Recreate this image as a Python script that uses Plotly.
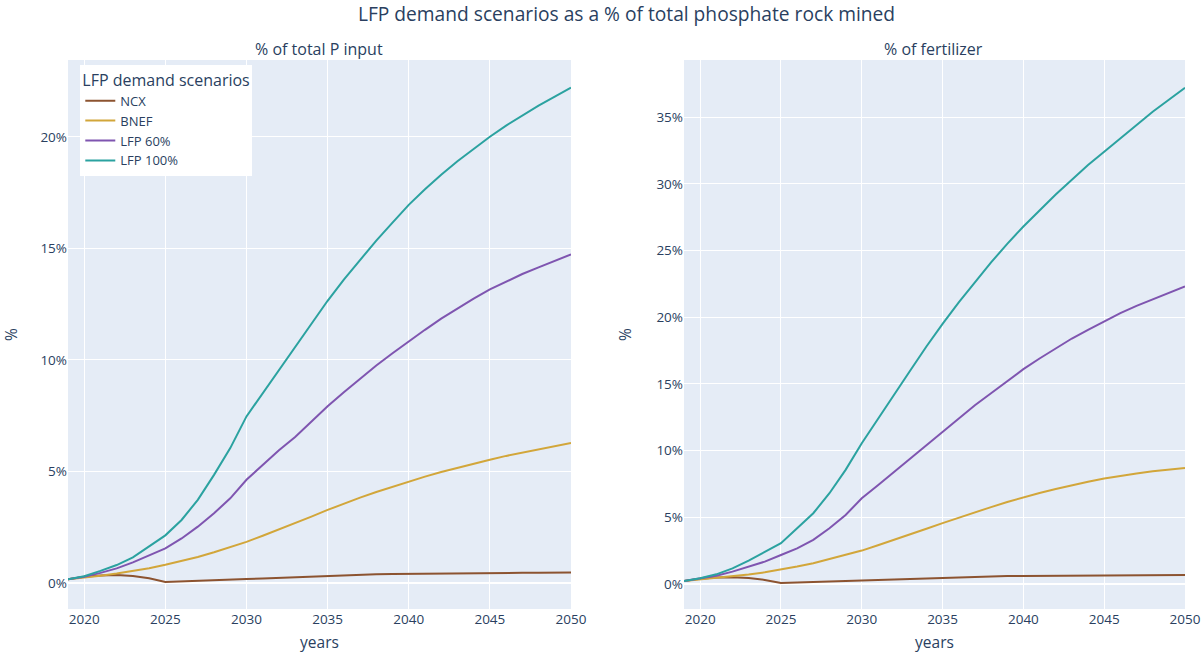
import plotly.graph_objects as go
from plotly.subplots import make_subplots

years = list(range(2019, 2051))

# LFP demand as % of total P input
ncx_p = [0.17, 0.28, 0.34, 0.36, 0.32, 0.22, 0.05, 0.07, 0.10, 0.12, 0.15, 0.18,
         0.21, 0.24, 0.27, 0.30, 0.33, 0.36, 0.39, 0.40, 0.41, 0.42, 0.43, 0.43,
         0.44, 0.44, 0.45, 0.45, 0.46, 0.46, 0.47, 0.47]
bnef_p = [0.17, 0.24, 0.33, 0.43, 0.54, 0.67, 0.82, 0.98, 1.17, 1.38, 1.60, 1.85,
          2.12, 2.40, 2.68, 2.98, 3.28, 3.56, 3.83, 4.08, 4.32, 4.55, 4.77, 4.98,
          5.17, 5.35, 5.53, 5.70, 5.85, 6.00, 6.14, 6.28]
lfp60_p = [0.17, 0.28, 0.46, 0.66, 0.93, 1.26, 1.56, 2.00, 2.53, 3.13, 3.80, 4.63,
           5.30, 5.95, 6.55, 7.25, 7.92, 8.55, 9.15, 9.75, 10.30, 10.84, 11.35, 11.85,
           12.30, 12.75, 13.16, 13.50, 13.85, 14.15, 14.45, 14.73]
lfp100_p = [0.17, 0.31, 0.55, 0.81, 1.15, 1.63, 2.14, 2.83, 3.73, 4.85, 6.05, 7.47,
            8.50, 9.55, 10.55, 11.60, 12.65, 13.60, 14.50, 15.35, 16.15, 16.95, 17.65, 18.30,
            18.90, 19.45, 20.00, 20.50, 20.95, 21.40, 21.80, 22.20]

# LFP demand as % of fertilizer
ncx_f = [0.22, 0.38, 0.48, 0.50, 0.45, 0.30, 0.07, 0.12, 0.16, 0.19, 0.22, 0.25,
         0.29, 0.33, 0.37, 0.41, 0.45, 0.50, 0.54, 0.57, 0.59, 0.60, 0.61, 0.62,
         0.62, 0.63, 0.63, 0.64, 0.64, 0.65, 0.65, 0.66]
bnef_f = [0.22, 0.33, 0.45, 0.57, 0.70, 0.87, 1.07, 1.30, 1.55, 1.85, 2.15, 2.50,
          2.90, 3.30, 3.72, 4.14, 4.56, 4.97, 5.37, 5.76, 6.14, 6.50, 6.82, 7.12,
          7.40, 7.66, 7.90, 8.10, 8.28, 8.44, 8.58, 8.70]
lfp60_f = [0.22, 0.40, 0.62, 0.92, 1.30, 1.67, 2.17, 2.67, 3.30, 4.17, 5.17, 6.42,
           7.40, 8.40, 9.40, 10.40, 11.40, 12.40, 13.40, 14.30, 15.20, 16.10, 16.90, 17.65,
           18.40, 19.05, 19.70, 20.30, 20.85, 21.35, 21.85, 22.30]
lfp100_f = [0.22, 0.42, 0.72, 1.17, 1.75, 2.42, 3.05, 4.17, 5.30, 6.80, 8.55, 10.55,
            12.40, 14.20, 16.00, 17.80, 19.50, 21.10, 22.60, 24.10, 25.50, 26.80, 28.00, 29.20,
            30.30, 31.40, 32.40, 33.40, 34.40, 35.40, 36.30, 37.20]

scenarios = ["NCX", "BNEF", "LFP 60%", "LFP 100%"]
colors = ["#8c5330", "#d2a63a", "#7f55b0", "#2ba2a0"]
p_input = [ncx_p, bnef_p, lfp60_p, lfp100_p]
fertilizer = [ncx_f, bnef_f, lfp60_f, lfp100_f]

fig = make_subplots(rows=1, cols=2,
                    subplot_titles=("% of total P input", "% of fertilizer"))

for name, color, vals in zip(scenarios, colors, p_input):
    fig.add_trace(go.Scatter(x=years, y=vals, mode="lines", name=name,
                             line=dict(color=color, width=2)),
                  row=1, col=1)
for name, color, vals in zip(scenarios, colors, fertilizer):
    fig.add_trace(go.Scatter(x=years, y=vals, mode="lines", name=name,
                             line=dict(color=color, width=2), showlegend=False),
                  row=1, col=2)

fig.update_layout(
    template="plotly",
    width=1203, height=653,
    margin=dict(l=68, r=18, t=60, b=44),
    font=dict(family="Open Sans, Verdana, Arial, sans-serif", size=13.5, color="#2a3f5f"),
    title=dict(text="LFP demand scenarios as a % of total phosphate rock mined",
               xref="paper", x=0.5, xanchor="center", y=1 - 14 / 653, yanchor="middle",
               font=dict(size=19.2)),
    legend=dict(title=dict(text="LFP demand scenarios", font=dict(size=16)),
                x=0.011, y=0.991, xanchor="left", yanchor="top",
                bgcolor="white", font=dict(size=13), tracegroupgap=0),
)
for ann in fig.layout.annotations:
    ann.font.size = 16
    ann.yshift = -2

fig.update_xaxes(title_text="years", title_font=dict(size=15.5), dtick=5, tick0=2020,
                 range=[2019, 2050], automargin=False, title_standoff=10)
fig.update_xaxes(domain=[0, 503 / 1117], row=1, col=1)
fig.update_xaxes(domain=[616 / 1117, 1], row=1, col=2)
fig.update_yaxes(title_text="%", title_font=dict(size=15.5), ticksuffix="%", dtick=5,
                 automargin=False, title_standoff=20)
fig.update_yaxes(range=[-1.16, 23.44], row=1, col=1)
fig.update_yaxes(range=[-1.88, 39.28], row=1, col=2)

fig.write_html("out.html")
